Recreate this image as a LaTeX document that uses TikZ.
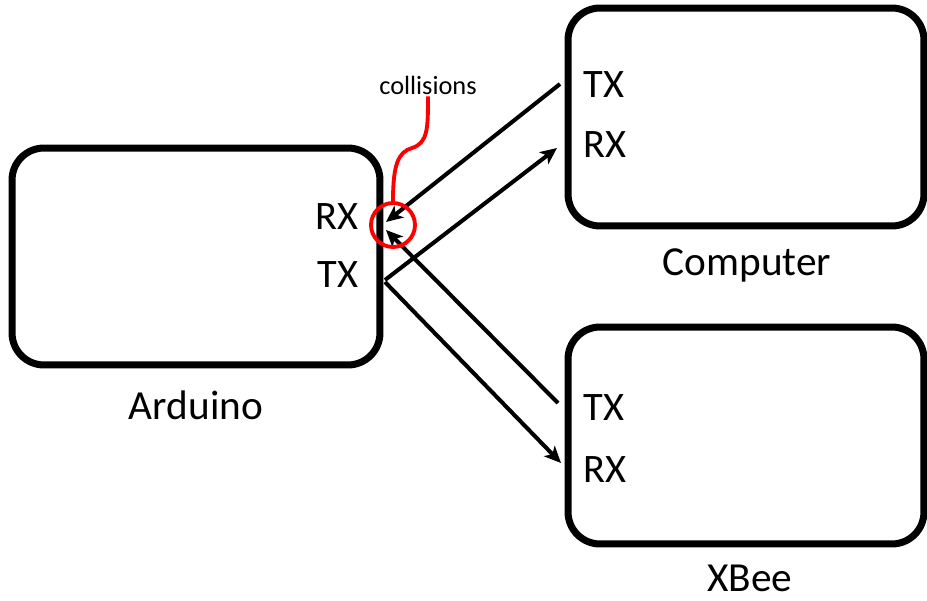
\documentclass[tikz,border=0pt]{standalone}
\usepackage{fontspec}
\setmainfont{Carlito}
\usetikzlibrary{arrows.meta}

\begin{document}
\begin{tikzpicture}[x=.02cm,y=-.02cm,
  box/.style={draw,line width=4pt,rounded corners=.64cm,minimum width=7.12cm,minimum height=4.36cm,inner sep=0pt},
  port/.style={inner sep=0pt,font=\fontsize{23}{25}\selectfont},
  boxname/.style={inner sep=0pt,font=\fontsize{23.5}{26}\selectfont},
  wirearrow/.style={line width=2.3pt,-{Stealth[length=9.5pt,width=8.5pt,inset=2.5pt]}}]
\path[use as bounding box] (0,0) rectangle (927,601);
% boxes
\node[box,minimum width=7.36cm,minimum height=4.34cm] (arduino) at (196,256.5) {};
\node[box] (computer) at (746,117) {};
\node[box,minimum height=4.34cm] (xbee) at (746,435.5) {};
\node[boxname] (arduinoname) at (196,405) {Arduino};
\node[boxname] (computername) at (747,265) {Computer};
\node[boxname] (xbeename) at (750,578) {XBee};
% port labels
\node[port,anchor=east] (ardRX) at (359,217) {RX};
\node[port,anchor=east] (ardTX) at (359,275) {TX};
\node[port,anchor=west] (compTX) at (583,85) {TX};
\node[port,anchor=west] (compRX) at (583,145) {RX};
\node[port,anchor=west] (xbeeTX) at (583,408) {TX};
\node[port,anchor=west] (xbeeRX) at (583,470) {RX};
% wire ends
\coordinate (ardrxa) at (386,222);
\coordinate (ardrxb) at (386,230);
\coordinate (ardtxa) at (385,280);
\coordinate (ardtxb) at (385,282);
\coordinate (comptx) at (560,84);
\coordinate (comprx) at (557,148);
\coordinate (xbeetx) at (558,403);
\coordinate (xbeerx) at (561,463);
\draw[wirearrow] (comptx) -- (ardrxa);
\draw[wirearrow] (ardtxa) -- (comprx);
\draw[wirearrow] (xbeetx) -- (ardrxb);
\draw[wirearrow] (ardtxb) -- (xbeerx);
% collisions
\node[circle,draw=red,line width=2.2pt,minimum size=.88cm,inner sep=0pt] (coll) at (393,225) {};
\node[inner sep=1pt,font=\fontsize{15}{17}\selectfont] (colltext) at (428,85) {collisions};
\draw[red,line width=2.2pt] (coll.north) .. controls (393,165) and (398,152) .. (412,148)
  .. controls (428,143) and (428,128) .. (colltext.south);
\end{tikzpicture}
\end{document}
